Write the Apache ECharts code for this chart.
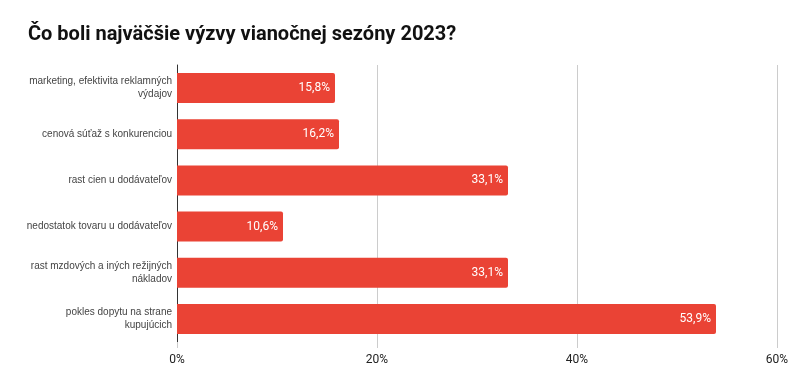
<!DOCTYPE html>
<html><head><meta charset="utf-8">
<script src="https://cdn.jsdelivr.net/npm/echarts@6/dist/echarts.min.js"></script>
<style>html,body{margin:0;padding:0;background:#fff}#c{width:796px;height:390px}</style>
</head><body><div id="c"></div>
<script>
const titleText = "Čo boli najväčšie výzvy vianočnej sezóny 2023?";
const categories = [
  "marketing, efektivita reklamných\nvýdajov",
  "cenová súťaž s konkurenciou",
  "rast cien u dodávateľov",
  "nedostatok tovaru u dodávateľov",
  "rast mzdových a iných režijných\nnákladov",
  "pokles dopytu na strane\nkupujúcich"
];
const values = [15.8, 16.2, 33.1, 10.6, 33.1, 53.9];
const xTicks = [0, 20, 40, 60];

const chart = echarts.init(document.getElementById('c'), null, {renderer:'canvas'});
chart.setOption({
  animation:false,
  backgroundColor:'#fff',
  textStyle:{fontFamily:'Roboto'},
  title:{text:titleText,left:23,top:20,textStyle:{fontFamily:'Roboto',fontWeight:'bold',fontSize:20,color:'#111'}},
  grid:{left:177,right:19,top:65,height:277},
  xAxis:{type:'value',min:xTicks[0],max:xTicks[xTicks.length-1],interval:20,
    axisLine:{show:false},axisTick:{show:true,length:6,lineStyle:{color:'#cccccc'}},
    splitLine:{lineStyle:{color:'#cccccc',width:1}},
    axisLabel:{formatter:v=>v+'%',color:'#222',fontSize:12,margin:12,fontFamily:'Roboto'}},
  yAxis:{type:'category',data:categories,inverse:true,
    axisLine:{show:true,lineStyle:{color:'#333',width:1}},axisTick:{show:false},
    axisLabel:{color:'#444',fontSize:10,margin:5,lineHeight:13,align:'right',fontFamily:'Liberation Sans'}},
  series:[{type:'bar',data:values,barWidth:30,
    itemStyle:{color:'#EA4335',borderRadius:[0,2,2,0]},
    label:{show:true,position:'insideRight',distance:5,color:'#fff',fontSize:12,fontFamily:'Roboto',
      formatter:p=>p.value.toFixed(1).replace('.',',')+'%'}}]
});
</script></body></html>
